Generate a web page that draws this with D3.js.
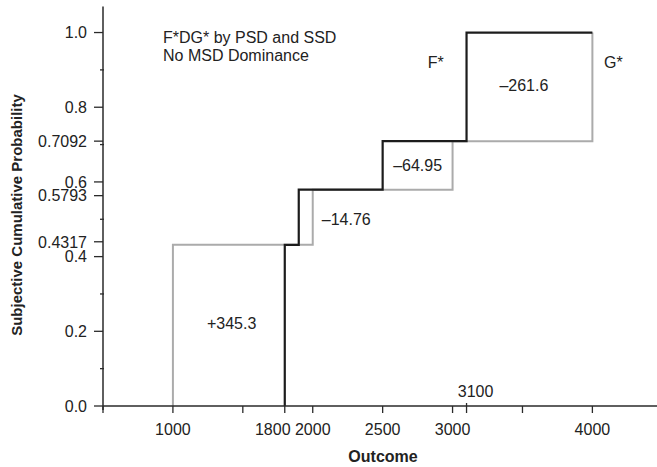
<!DOCTYPE html>
<html>
<head>
<meta charset="utf-8">
<script src="https://cdn.jsdelivr.net/npm/d3@7"></script>
<style>
  body { margin: 0; background: #fff; }
  svg { display: block; font-family: "Liberation Sans", Arial, sans-serif; }
</style>
</head>
<body>
<svg id="board" width="657" height="467"></svg>
<script>
// cumulative probabilities shared by both prospects
const cumProbs = [0.4317, 0.5793, 0.7092, 1.0];
const fOutcomes = [1800, 1900, 2500, 3100];   // F*
const gOutcomes = [1000, 2000, 3000, 4000];   // G*
const maxOutcome = 4000;

const yMajor = [0, 0.2, 0.4, 0.4317, 0.5793, 0.6, 0.7092, 0.8, 1.0];
const yMinor = [0.1, 0.3, 0.5, 0.7, 0.9];
const xTicks = [500, 1000, 1500, 1800, 2000, 2500, 3000, 3500, 4000, 4500];
const xLabeled = [1000, 1800, 2000, 2500, 3000, 4000];
const crossing = 3100;

// area differences, placed in data coordinates
const areaLabels = [
  {text: "+345.3", x: 1420, y: 0.206},
  {text: "\u201314.76", x: 2240, y: 0.485},
  {text: "\u201364.95", x: 2750, y: 0.628},
  {text: "\u2013261.6", x: 3510, y: 0.843}
];
const seriesLabels = [
  {text: "F*", x: 2880, y: 0.905},
  {text: "G*", x: 4150, y: 0.905}
];
const notes = ["F*DG* by PSD and SSD", "No MSD Dominance"];

const svg = d3.select('#board');

const x = d3.scaleLinear().domain([500, 4500]).range([103, 662.3]);
const y = d3.scaleLinear().domain([0, 1.07]).range([406, 6.4]);

const axisColor = '#2a2a2a';
const fs = 16;

// steps: start on the axis, rise at each outcome, finish at the top right
function stepPoints(outs){
  let pts = [[outs[0], 0]];
  outs.forEach((o, i) => pts.push([o, cumProbs[i]]));
  if (outs[outs.length - 1] < maxOutcome) pts.push([maxOutcome, 1.0]);
  return pts;
}

const line = d3.line()
  .x(d => x(d[0]))
  .y(d => y(d[1]))
  .curve(d3.curveStepAfter);

svg.append('path')
  .attr('d', line(stepPoints(gOutcomes)))
  .attr('fill', 'none')
  .attr('stroke', '#ababab')
  .attr('stroke-width', 2);

svg.append('path')
  .attr('d', line(stepPoints(fOutcomes)))
  .attr('fill', 'none')
  .attr('stroke', '#1c1c1c')
  .attr('stroke-width', 2.2);

// y axis
const yAxisG = svg.append('g').attr('transform', `translate(${x(500)},0)`);
yAxisG.append('line')
  .attr('x1', 0).attr('x2', 0)
  .attr('y1', y(1.07)).attr('y2', y(0) + 4)
  .attr('stroke', axisColor).attr('stroke-width', 1.5);

// a couple of labels are nudged so they don't collide
const yNudge = {0.5793: 6, 0.4317: -3};
yMajor.forEach(v => {
  const yy = y(v) + (yNudge[v] || 0);
  yAxisG.append('line')
    .attr('x1', -9).attr('x2', 0)
    .attr('y1', yy).attr('y2', yy)
    .attr('stroke', axisColor).attr('stroke-width', 1.3);
  yAxisG.append('text')
    .attr('x', -16).attr('y', yy)
    .attr('dy', '0.36em')
    .attr('text-anchor', 'end')
    .attr('font-size', fs)
    .attr('fill', '#222')
    .text(v === 0 || v === 1 ? d3.format('.1f')(v) : String(v));
});
yMinor.forEach(v => {
  yAxisG.append('line')
    .attr('x1', -3).attr('x2', 1)
    .attr('y1', y(v)).attr('y2', y(v))
    .attr('stroke', axisColor).attr('stroke-width', 1.3);
});

// x axis
const xAxisG = svg.append('g').attr('transform', `translate(0,${y(0)})`);
xAxisG.append('line')
  .attr('x1', x(500)).attr('x2', 657)
  .attr('y1', 0).attr('y2', 0)
  .attr('stroke', axisColor).attr('stroke-width', 1.5);

xTicks.forEach(v => {
  xAxisG.append('line')
    .attr('x1', x(v)).attr('x2', x(v))
    .attr('y1', 0).attr('y2', 7)
    .attr('stroke', axisColor).attr('stroke-width', 1.3);
});
const xNudge = {1800: -12};
xLabeled.forEach(v => {
  xAxisG.append('text')
    .attr('x', x(v) + (xNudge[v] || 0)).attr('y', 29)
    .attr('text-anchor', 'middle')
    .attr('font-size', fs)
    .attr('fill', '#222')
    .text(v);
});
xAxisG.append('line')
  .attr('x1', x(crossing)).attr('x2', x(crossing))
  .attr('y1', -3).attr('y2', 7)
  .attr('stroke', axisColor).attr('stroke-width', 1.3);
xAxisG.append('text')
  .attr('x', x(crossing) + 9).attr('y', -9)
  .attr('text-anchor', 'middle')
  .attr('font-size', fs)
  .attr('fill', '#222')
  .text(crossing);

// axis titles
svg.append('text')
  .attr('x', 383).attr('y', 462)
  .attr('text-anchor', 'middle')
  .attr('font-size', fs)
  .attr('font-weight', 'bold')
  .attr('fill', '#222')
  .text('Outcome');

svg.append('text')
  .attr('transform', 'translate(22,215) rotate(-90)')
  .attr('text-anchor', 'middle')
  .attr('font-size', 15)
  .attr('font-weight', 'bold')
  .attr('fill', '#222')
  .text('Subjective Cumulative Probability');

// annotations
areaLabels.concat(seriesLabels).forEach(d => {
  svg.append('text')
    .attr('x', x(d.x)).attr('y', y(d.y))
    .attr('text-anchor', 'middle')
    .attr('font-size', fs)
    .attr('fill', '#222')
    .text(d.text);
});

notes.forEach((t, i) => {
  svg.append('text')
    .attr('x', 163).attr('y', 43 + i * 18)
    .attr('font-size', fs)
    .attr('fill', '#222')
    .text(t);
});
</script>
</body>
</html>
